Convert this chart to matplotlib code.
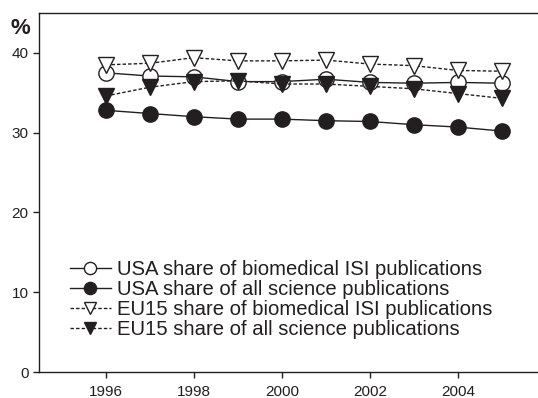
import matplotlib
matplotlib.use('Agg')
import matplotlib.pyplot as plt

years = [1996, 1997, 1998, 1999, 2000, 2001, 2002, 2003, 2004, 2005]
usa_biomed = [37.5, 37.1, 37.0, 36.4, 36.4, 36.7, 36.3, 36.2, 36.3, 36.2]
usa_all = [32.8, 32.4, 32.0, 31.7, 31.7, 31.5, 31.4, 31.0, 30.7, 30.2]
eu_biomed = [38.5, 38.7, 39.4, 39.0, 39.0, 39.1, 38.6, 38.4, 37.8, 37.7]
eu_all = [34.6, 35.7, 36.4, 36.5, 36.1, 36.1, 35.8, 35.5, 34.9, 34.3]

x_ticks = [1996, 1998, 2000, 2002, 2004]
y_ticks = [0, 10, 20, 30, 40]

ink = '#231f20'
plt.rcParams['font.family'] = ['Liberation Sans', 'DejaVu Sans']

fig = plt.figure(figsize=(5.38, 3.98), dpi=100)
ax = fig.add_axes([39 / 538, 26 / 398, 499 / 538, 359 / 398])

# USA first so the EU triangles sit on top where they overlap
ax.plot(years, usa_biomed, linestyle='-', color=ink, lw=1,
        marker='o', ms=11, mfc='white', mec=ink, mew=1,
        label='USA share of biomedical ISI publications')
ax.plot(years, usa_all, linestyle='-', color=ink, lw=1,
        marker='o', ms=11, mfc=ink, mec=ink, mew=1,
        label='USA share of all science publications')
ax.plot(years, eu_biomed, linestyle=(0, (2.5, 1.5)), color=ink, lw=1,
        marker='v', ms=11, mfc='white', mec=ink, mew=1,
        label='EU15 share of biomedical ISI publications')
ax.plot(years, eu_all, linestyle=(0, (2.5, 1.5)), color=ink, lw=1,
        marker='v', ms=11, mfc=ink, mec=ink, mew=1,
        label='EU15 share of all science publications')

ax.set_xlim(1994.48, 2005.82)
ax.set_ylim(0, 45)
ax.set_xticks(x_ticks)
ax.set_yticks(y_ticks)
ax.tick_params(colors=ink, labelsize=11, length=4, width=1)
ax.tick_params(axis='x', pad=5)
ax.spines['right'].set_visible(False)
for s in ['left', 'top', 'bottom']:
    ax.spines[s].set_color(ink)
    ax.spines[s].set_linewidth(1)

ax.text(-0.058, 0.958, '%', transform=ax.transAxes, fontsize=16,
        fontweight='bold', color=ink, ha='left', va='center')

ax.legend(loc='lower left', bbox_to_anchor=(0.046, 0.068), frameon=False,
          fontsize=14.6, handlelength=2.0, handletextpad=0.3,
          labelspacing=0.05, borderaxespad=0, markerscale=0.8,
          labelcolor=ink)

fig.savefig('out.png', dpi=100)
